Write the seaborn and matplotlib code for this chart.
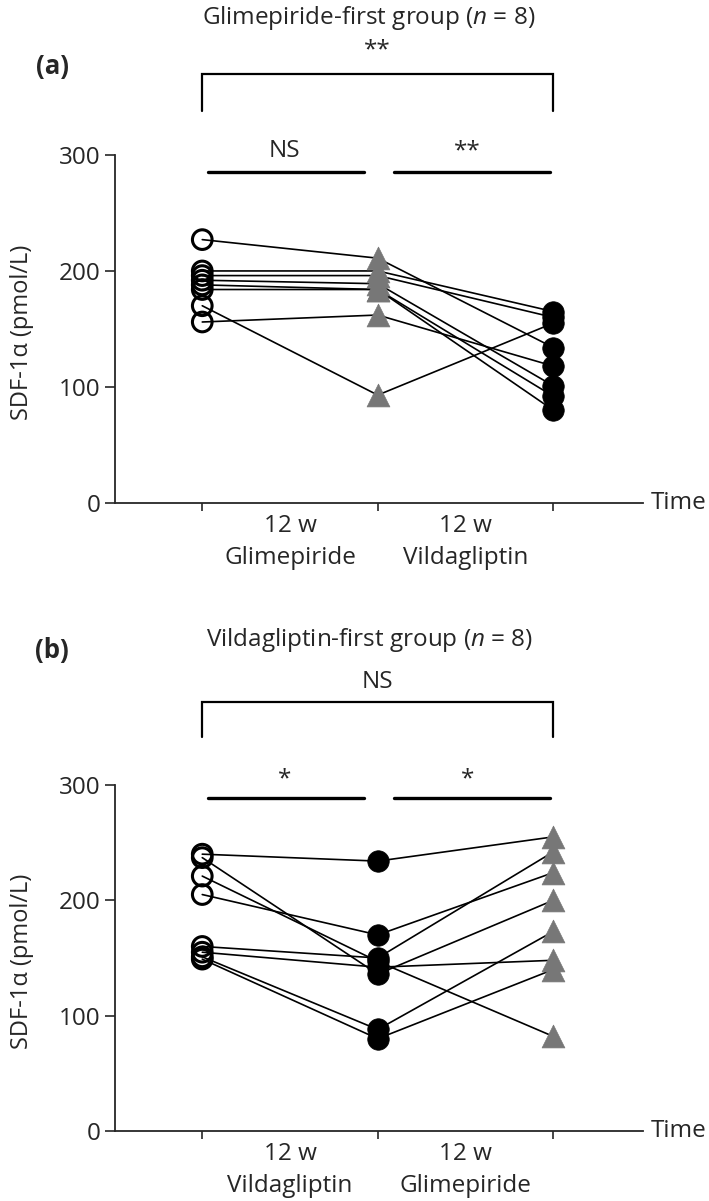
import numpy as np
import pandas as pd
import matplotlib
matplotlib.use('Agg')
import matplotlib.pyplot as plt
import seaborn as sns

# ---- data (SDF-1alpha, pmol/L) ----
time_pos = [1, 2, 3]

# (a) Glimepiride-first group: baseline -> 12 w glimepiride -> 12 w vildagliptin
a_base = [227, 200, 196, 192, 188, 184, 170, 156]
a_glim = [211, 200, 196, 189, 184, 184, 93, 162]
a_vild = [134, 165, 160, 101, 92, 80, 155, 118]

# (b) Vildagliptin-first group: baseline -> 12 w vildagliptin -> 12 w glimepiride
b_base = [240, 237, 221, 205, 160, 155, 151, 149]
b_vild = [234, 136, 147, 170, 150, 142, 88, 80]
b_glim = [255, 200, 82, 224, 242, 148, 173, 140]

a_title = 'Glimepiride-first group ($\\mathit{n}$ = 8)'
b_title = 'Vildagliptin-first group ($\\mathit{n}$ = 8)'
a_labels = ['12 w\nGlimepiride', '12 w\nVildagliptin']
b_labels = ['12 w\nVildagliptin', '12 w\nGlimepiride']
yticks = [0, 100, 200, 300]

sns.set_style('ticks')
plt.rcParams['font.family'] = ['Open Sans', 'DejaVu Sans']
plt.rcParams['mathtext.fontset'] = 'custom'
plt.rcParams['mathtext.rm'] = 'Open Sans'
plt.rcParams['mathtext.it'] = 'Open Sans:italic'

FS = 17.5
GREY = '#777777'


def long_df(cols):
    rows = []
    for t, col in zip(time_pos, cols):
        for s, v in enumerate(col):
            rows.append({'subject': s, 'time': t, 'value': v})
    return pd.DataFrame(rows)


def panel(ax, cols, styles, labels, title, tag, top_txt, pair_txt, ys):
    df = long_df(cols)
    sns.lineplot(data=df, x='time', y='value', units='subject', estimator=None,
                 color='black', lw=1.2, ax=ax, legend=False, zorder=2)
    for t, st in zip(time_pos, styles):
        d = df[df['time'] == t]
        if st == 'open':
            sns.scatterplot(data=d, x='time', y='value', ax=ax, marker='o', s=200,
                            facecolors='none', edgecolor='black', linewidth=2.2,
                            zorder=3, clip_on=False)
        elif st == 'filled':
            sns.scatterplot(data=d, x='time', y='value', ax=ax, marker='o', s=240,
                            color='black', edgecolor='black', linewidth=0.5,
                            zorder=3, clip_on=False)
        else:
            sns.scatterplot(data=d, x='time', y='value', ax=ax, marker='^', s=270,
                            color=GREY, edgecolor=GREY, linewidth=0.5,
                            zorder=3, clip_on=False)

    ax.set_xlim(0.5, 3.51)
    ax.set_ylim(0, 300)
    ax.set_yticks(yticks)
    ax.set_yticklabels([str(v) for v in yticks], fontsize=FS)
    ax.set_xticks(time_pos)
    ax.set_xticklabels([])
    ax.set_xticks([1.5, 2.5], minor=True)
    ax.set_xticklabels(labels, minor=True, fontsize=FS, linespacing=1.45)
    ax.tick_params(axis='x', which='major', direction='out', length=6, width=1.2)
    ax.tick_params(axis='x', which='minor', length=0, pad=8)
    ax.tick_params(axis='y', direction='out', length=7, width=1.2, pad=3)
    for sp in ['top', 'right']:
        ax.spines[sp].set_visible(False)
    for sp in ['left', 'bottom']:
        ax.spines[sp].set_linewidth(1.3)
    ax.set_xlabel('')
    ax.set_ylabel('SDF-1α (pmol/L)', fontsize=FS - 0.5)
    ax.yaxis.set_label_coords(-0.152, 0.49)

    ax.text(3.555, 0, 'Time', fontsize=FS, ha='left', va='center', clip_on=False)

    y_title, y_tag, y_top, br_hi, br_lo, y_pair_txt, y_pair = ys
    ax.text(1.95, y_title, title, fontsize=FS, ha='center', va='center', clip_on=False)
    ax.text(0.144, y_tag, tag, fontsize=FS + 1, fontweight='bold', ha='center',
            va='center', clip_on=False)
    ax.text(2.0, y_top, top_txt, fontsize=FS, ha='center', va='center', clip_on=False)
    ax.plot([1, 1, 3, 3], [br_lo, br_hi, br_hi, br_lo], color='black', lw=1.6,
            clip_on=False, solid_joinstyle='miter')
    ax.plot([1.03, 1.92], [y_pair, y_pair], color='black', lw=2.4, clip_on=False)
    ax.plot([2.09, 2.98], [y_pair, y_pair], color='black', lw=2.4, clip_on=False)
    ax.text(1.47, y_pair_txt, pair_txt[0], fontsize=FS, ha='center', va='center',
            clip_on=False)
    ax.text(2.51, y_pair_txt, pair_txt[1], fontsize=FS, ha='center', va='center',
            clip_on=False)


fig = plt.figure(figsize=(7.09, 12.01), dpi=100)
ax_a = fig.add_axes([0.1615, 0.5812, 0.7451, 0.2898])
ax_b = fig.add_axes([0.1615, 0.0583, 0.7451, 0.2881])

panel(ax_a, [a_base, a_glim, a_vild], ['open', 'tri', 'filled'], a_labels,
      a_title, '(a)', '**', ['NS', '**'],
      (418, 376, 390, 370, 338, 303, 285))
panel(ax_b, [b_base, b_vild, b_glim], ['open', 'filled', 'tri'], b_labels,
      b_title, '(b)', 'NS', ['*', '*'],
      (426, 417, 389, 372, 342, 305, 289))

fig.savefig('out.png', dpi=100)
